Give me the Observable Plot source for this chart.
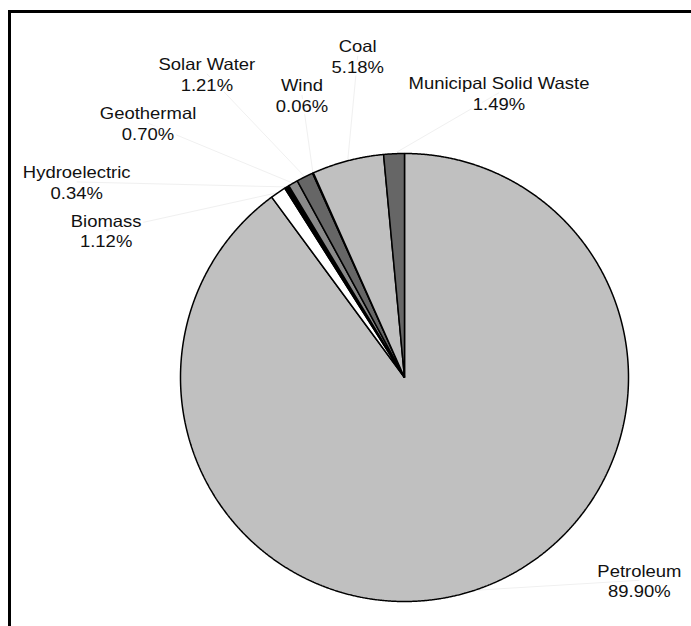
<!DOCTYPE html>
<html>
<head>
<meta charset="utf-8">
<script src="https://cdn.jsdelivr.net/npm/d3@7"></script>
<script src="https://cdn.jsdelivr.net/npm/@observablehq/plot@0.6"></script>
<style>
  body { margin: 0; background: #fff; overflow: hidden; }
  #wrap { position: relative; width: 691px; height: 626px; }
  #wrap svg { position: absolute; left: 0; top: 0; }
  #border { position: absolute; left: 8px; top: 10px; right: -20px; bottom: -20px;
            border-left: 3px solid #000; border-top: 3px solid #000; pointer-events: none; }
</style>
</head>
<body>
<div id="wrap"><div id="border"></div></div>
<script>
// Energy sources and their shares (%), clockwise from 12 o'clock
const sources = ["Petroleum", "Biomass", "Hydroelectric", "Geothermal", "Solar Water", "Wind", "Coal", "Municipal Solid Waste"];
const shares  = [89.90, 1.12, 0.34, 0.70, 1.21, 0.06, 5.18, 1.49];
const fills   = ["#c0c0c0", "#ffffff", "#000000", "#8a8a8a", "#666666", "#000000", "#c0c0c0", "#666666"];

// label placement: pixel nudge from the rim point at each wedge's mid-angle
const labelNudge = [[165, -10], [-172, 38], [-210, -5], [-145, -60], [-98, -103], [-11, -78], [10, -105], [105, -61]];

const W = 691, H = 626;
const cx = 404, cy = 377, radius = 224;

const arcs = d3.pie().sort(null).value(d => d)(shares);

// wedge outlines: centre, then points along the rim
const wedgePts = [];
arcs.forEach((a, i) => {
  const n = Math.max(2, Math.ceil((a.endAngle - a.startAngle) / 0.004));
  wedgePts.push({source: sources[i], x: 0, y: 0});
  for (let k = 0; k <= n; k++) {
    const t = a.startAngle + (a.endAngle - a.startAngle) * k / n;
    wedgePts.push({source: sources[i], x: radius * Math.sin(t), y: radius * Math.cos(t)});
  }
});

const labels = arcs.map((a, i) => {
  const m = (a.startAngle + a.endAngle) / 2;
  const rx = radius * Math.sin(m), ry = radius * Math.cos(m);
  return {
    text: `${sources[i]}\n${shares[i].toFixed(2)}%`,
    rx, ry,
    x: rx + labelNudge[i][0],
    y: ry - labelNudge[i][1]
  };
});

const chart = Plot.plot({
  width: W,
  height: H,
  margin: 0,
  style: {background: "transparent", overflow: "visible"},
  x: {type: "linear", domain: [-cx, W - cx], range: [0, W], axis: null},
  y: {type: "linear", domain: [-(H - cy), cy], range: [H, 0], axis: null},
  color: {domain: sources, range: fills},
  marks: [
    Plot.link(labels, {x1: "x", y1: "y", x2: "rx", y2: "ry", stroke: "#f0f0f0", strokeWidth: 1}),
    Plot.line(wedgePts, {
      x: "x", y: "y", z: "source", fill: "source",
      stroke: "#000", strokeWidth: 1.5, curve: "linear-closed", strokeLinejoin: "miter"
    }),
    Plot.text(labels, {
      x: "x", y: "y", text: "text",
      fontFamily: "Liberation Sans, Arial, sans-serif", fontSize: 16.5, lineHeight: 1.25,
      fill: "#111", stroke: "#fff", strokeWidth: 5, paintOrder: "stroke"
    })
  ]
});

// the label face is set a little wide: stretch each label about its anchor
chart.querySelectorAll("text").forEach(t => {
  const tr = t.getAttribute("transform");
  if (tr) t.setAttribute("transform", tr + " scale(1.12,1)");
});

document.getElementById("wrap").prepend(chart);
</script>
</body>
</html>
